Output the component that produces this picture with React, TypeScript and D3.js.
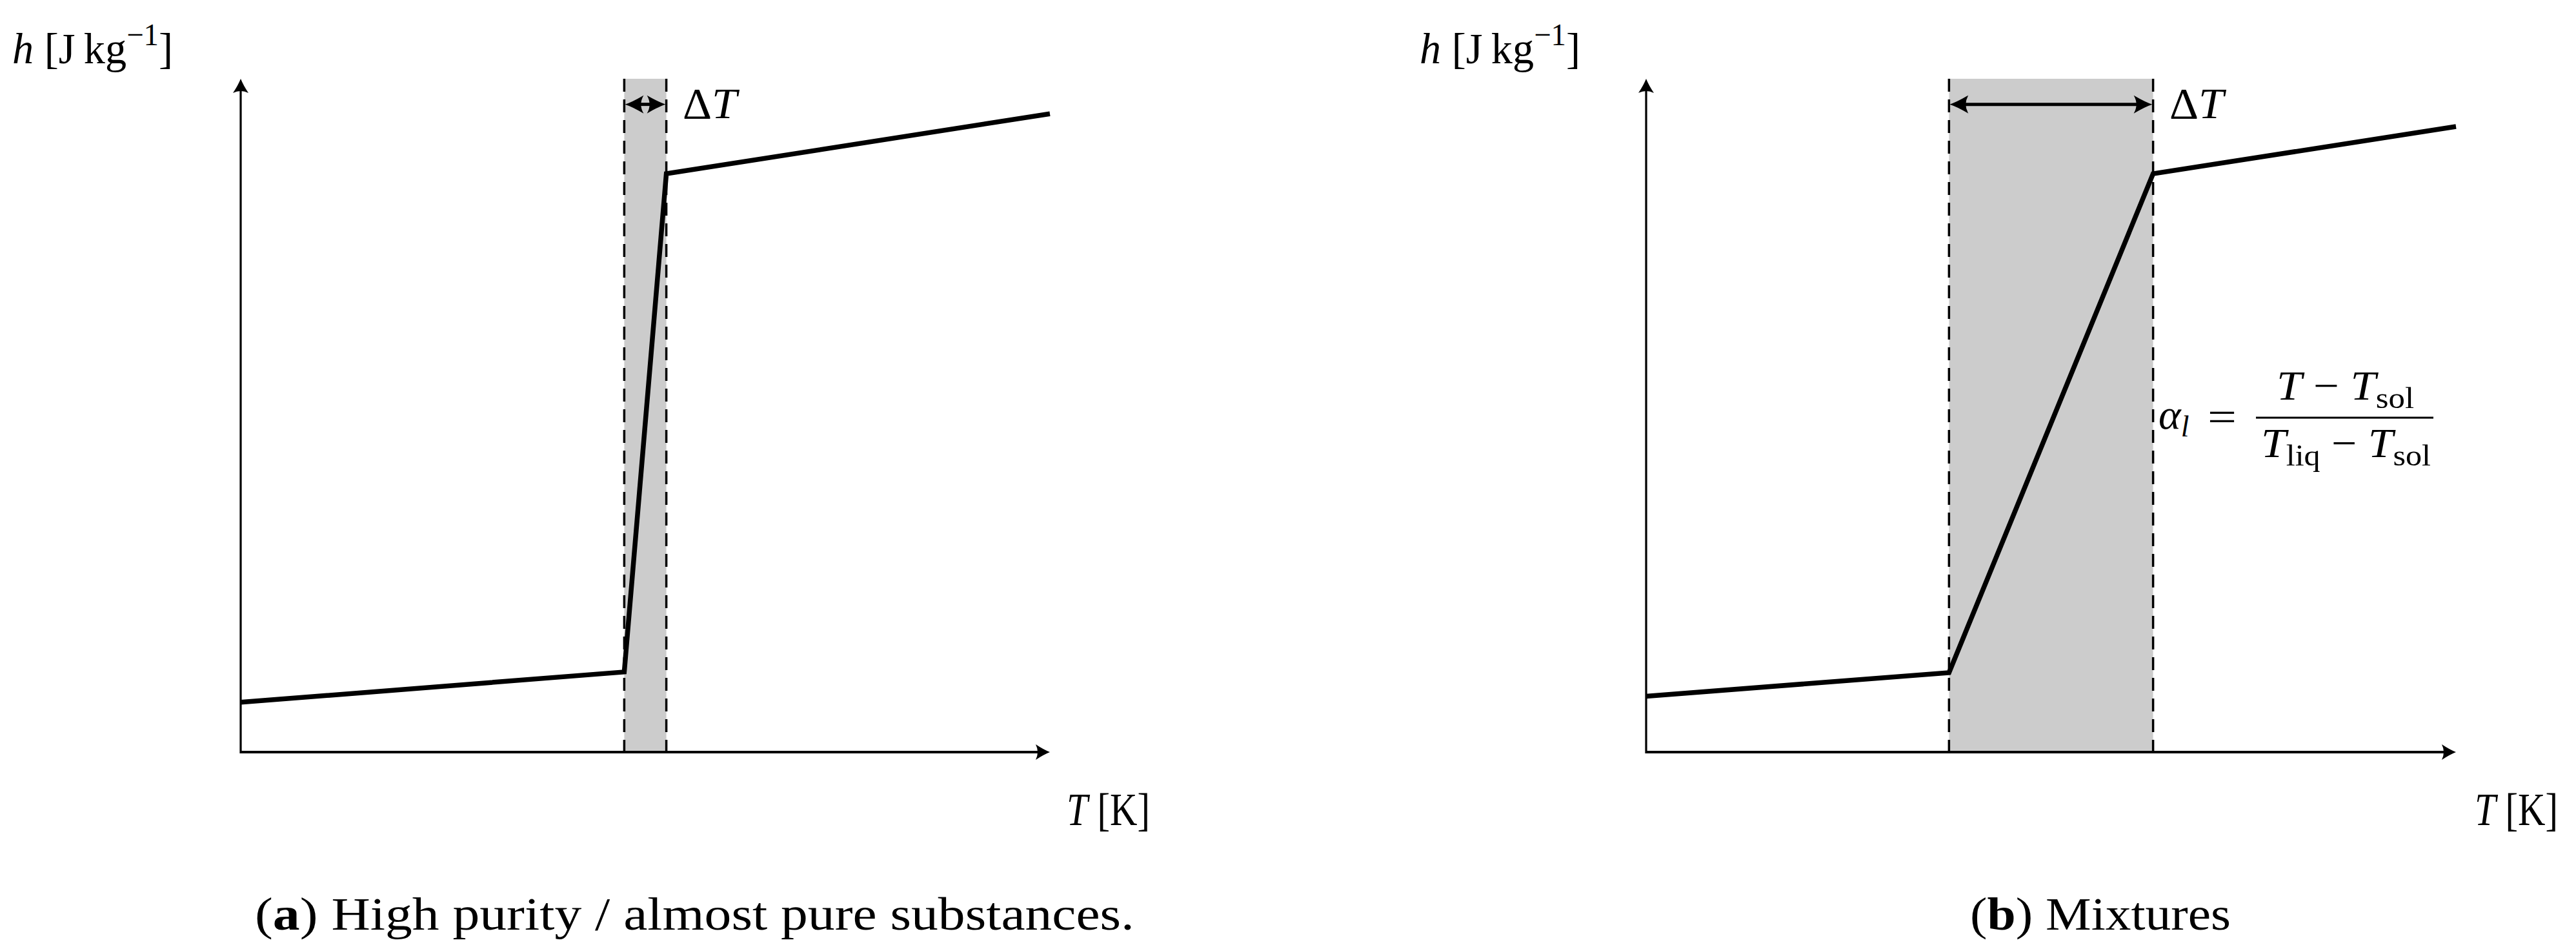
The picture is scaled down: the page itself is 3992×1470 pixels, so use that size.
import React from "react";
import * as d3 from "d3";

// Abstract units: temperature T and enthalpy h both on 0..100
const panelIds = ["a", "b"];
const curveT_a = [0, 47.4, 52.6, 100];
const curveH_a = [7.4, 11.9, 85.9, 94.8];
const curveT_b = [0, 37.4, 62.6, 100];
const curveH_b = [8.3, 11.8, 85.9, 92.9];
const solidusT = [47.4, 37.4];
const liquidusT = [52.6, 62.6];
const arrowH = 96.2;
const captionLetters = ["a", "b"];
const captionTexts = [") High purity / almost pure substances.", ") Mixtures"];
const yLabel = "h";
const xLabel = "T";

const W = 3992;
const H = 1470;
const FONT = "'Liberation Serif', 'DejaVu Serif', serif";

const layout = [
  { x0: 373, x1: 1627, yLab: 19, xLab: 1653, dT: 1058, cap: 395, capLen: 1363 },
  { x0: 2551, x1: 3806, yLab: 2200, xLab: 3835, dT: 3362, cap: 3053, capLen: 404 },
];
const yBottom = 1165;
const yTop = 122;

function axisHeadRight(tx: number, ty: number) {
  return `M${tx},${ty} Q${tx - 10},${ty - 4} ${tx - 22},${ty - 12} Q${tx - 16},${ty} ${tx - 22},${ty + 12} Q${tx - 10},${ty + 4} ${tx},${ty} Z`;
}
function axisHeadUp(tx: number, ty: number) {
  return `M${tx},${ty} Q${tx - 4},${ty + 10} ${tx - 12},${ty + 22} Q${tx},${ty + 16} ${tx + 12},${ty + 22} Q${tx + 4},${ty + 10} ${tx},${ty} Z`;
}
function headH(tx: number, ty: number, dir: number) {
  // dir = 1 means pointing left (body to the right)
  const L = 29 * dir;
  return `M${tx},${ty} Q${tx + 0.35 * L},${ty - 3} ${tx + L},${ty - 14} Q${tx + 0.72 * L},${ty} ${tx + L},${ty + 14} Q${tx + 0.35 * L},${ty + 3} ${tx},${ty} Z`;
}

function Panel({ i }: { i: number }) {
  const lay = layout[i];
  const x = d3.scaleLinear().domain([0, 100]).range([lay.x0, lay.x1]);
  const y = d3.scaleLinear().domain([0, 100]).range([yBottom, yTop]);
  const Ts = i === 0 ? curveT_a : curveT_b;
  const Hs = i === 0 ? curveH_a : curveH_b;
  const pts: [number, number][] = Ts.map((t, k) => [t, Hs[k]]);
  const line = d3
    .line<[number, number]>()
    .x((d) => x(d[0]))
    .y((d) => y(d[1]));
  const xs = x(solidusT[i]);
  const xl = x(liquidusT[i]);
  const ya = y(arrowH);
  return (
    <g>
      <rect x={xs} y={y(100)} width={xl - xs} height={y(0) - y(100)} fill="#cccccc" />
      <line x1={xs} x2={xs} y1={y(100)} y2={y(0)} stroke="#000" strokeWidth={3.5} strokeDasharray="20 12" />
      <line x1={xl} x2={xl} y1={y(100)} y2={y(0)} stroke="#000" strokeWidth={3.5} strokeDasharray="20 12" />
      {/* axes */}
      <line x1={x(0)} x2={x(100) - 14} y1={y(0)} y2={y(0)} stroke="#000" strokeWidth={4} />
      <path d={axisHeadRight(x(100), y(0))} fill="#000" />
      <line x1={x(0)} x2={x(0)} y1={y(0) + 2} y2={y(100) + 14} stroke="#000" strokeWidth={3.2} />
      <path d={axisHeadUp(x(0), y(100))} fill="#000" />
      {/* curve */}
      <path d={line(pts) || ""} fill="none" stroke="#000" strokeWidth={7.5} strokeLinejoin="miter" />
      {/* delta T arrow */}
      <line x1={xs + 18} x2={xl - 18} y1={ya} y2={ya} stroke="#000" strokeWidth={5} />
      <path d={headH(xs + 1, ya, 1)} fill="#000" />
      <path d={headH(xl - 1, ya, -1)} fill="#000" />
      <text x={lay.dT} y={183} fontFamily={FONT} fontSize={68} textLength={84} lengthAdjust="spacingAndGlyphs">
        Δ<tspan fontStyle="italic">T</tspan>
      </text>
      {/* axis labels */}
      <text x={lay.yLab} y={98} fontFamily={FONT} fontSize={68} textLength={249} lengthAdjust="spacingAndGlyphs">
        <tspan fontStyle="italic">{yLabel}</tspan>
        {" [J\u2009kg"}
        <tspan dy={-28} fontSize={48}>−1</tspan>
        <tspan dy={28}>]</tspan>
      </text>
      <text x={lay.xLab} y={1278} fontFamily={FONT} fontSize={72} textLength={129} lengthAdjust="spacingAndGlyphs">
        <tspan fontStyle="italic">{xLabel}</tspan>
        {" [K]"}
      </text>
      {/* caption */}
      <text x={lay.cap} y={1440} fontFamily={FONT} fontSize={72} textLength={lay.capLen} lengthAdjust="spacingAndGlyphs">
        (<tspan fontWeight="bold">{captionLetters[i]}</tspan>
        {captionTexts[i]}
      </text>
    </g>
  );
}

function Formula() {
  return (
    <g fontFamily={FONT}>
      <text x={3345} y={664} fontSize={66} fontStyle="italic">
        α<tspan dy={12} fontSize={46}>l</tspan>
      </text>
      <text x={3421} y={668} fontSize={66} textLength={45} lengthAdjust="spacingAndGlyphs">=</text>
      <line x1={3496} x2={3771} y1={647} y2={647} stroke="#000" strokeWidth={3} />
      <text x={3528} y={619} fontSize={64} textLength={213} lengthAdjust="spacingAndGlyphs">
        <tspan fontStyle="italic">T</tspan>
        {" − "}
        <tspan fontStyle="italic">T</tspan>
        <tspan dy={13} fontSize={46}>sol</tspan>
      </text>
      <text x={3504} y={708} fontSize={64} textLength={263} lengthAdjust="spacingAndGlyphs">
        <tspan fontStyle="italic">T</tspan>
        <tspan dy={13} fontSize={46}>liq</tspan>
        <tspan dy={-13}>{" − "}</tspan>
        <tspan fontStyle="italic">T</tspan>
        <tspan dy={13} fontSize={46}>sol</tspan>
      </text>
    </g>
  );
}

export default function App() {
  return (
    <svg width={W} height={H} viewBox={`0 0 ${W} ${H}`} style={{ position: "absolute", left: 0, top: 0, background: "#fff" }}>
      <rect width={W} height={H} fill="#fff" />
      {panelIds.map((id, i) => (
        <Panel key={id} i={i} />
      ))}
      <Formula />
    </svg>
  );
}
